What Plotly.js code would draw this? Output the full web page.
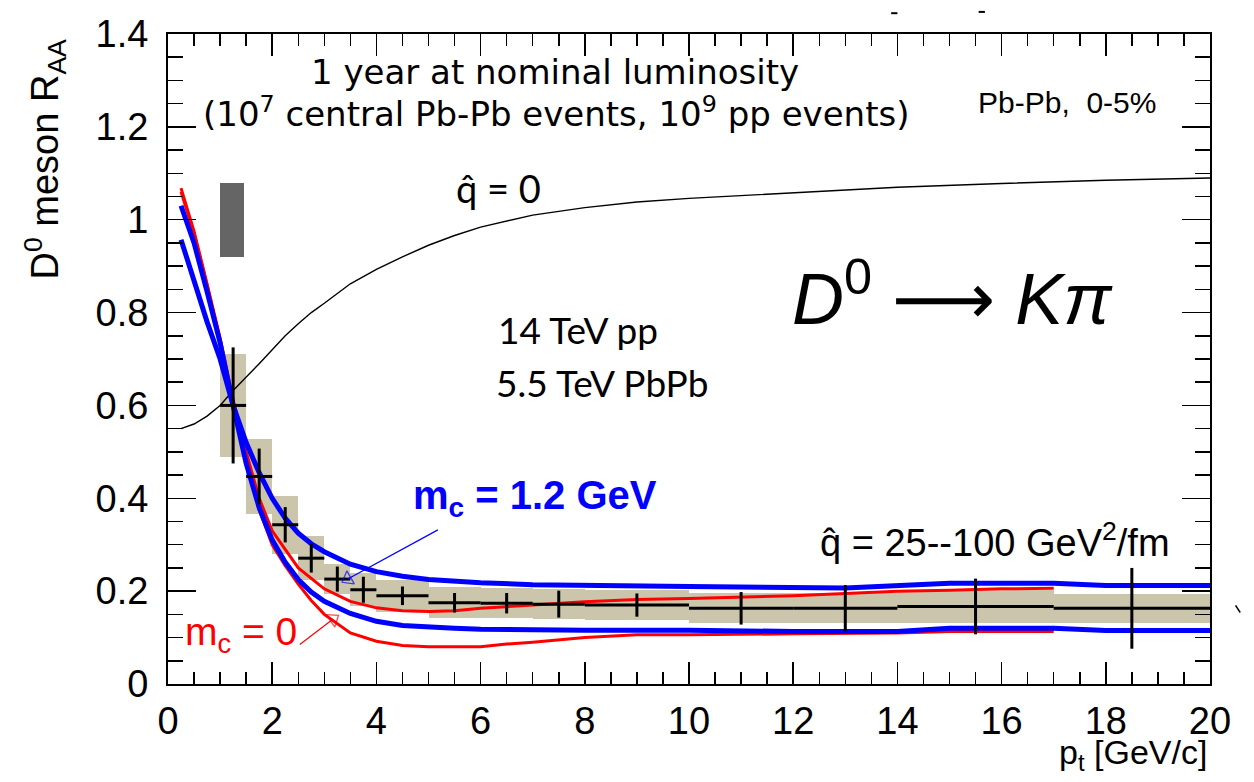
<!DOCTYPE html>
<html>
<head>
<meta charset="utf-8">
<script src="https://cdn.plot.ly/plotly-3.0.1.min.js"></script>
<style>
  html, body { margin: 0; padding: 0; background: #ffffff; }
  #chart { width: 1254px; height: 782px; }
</style>
</head>
<body>
<div id="chart"></div>
<script>
// D0 -> K pi nuclear modification factor, Pb-Pb 0-5%, projected for one year of running

// Measured points: bin centres, half widths, R_AA, statistical and systematic errors
const ptBinCenter    = [1.25, 1.75, 2.25, 2.75, 3.25, 3.75, 4.5, 5.5, 6.5, 7.5, 9, 11, 13, 15.5, 18.5];
const ptBinHalfWidth = [0.25, 0.25, 0.25, 0.25, 0.25, 0.25, 0.5, 0.5, 0.5, 0.5, 1, 1, 1, 1.5, 1.5];
const raaD0          = [0.600, 0.447, 0.343, 0.271, 0.226, 0.203, 0.190, 0.175, 0.174, 0.172, 0.170, 0.163, 0.163, 0.167, 0.163];
const statErr        = [0.125, 0.060, 0.038, 0.031, 0.027, 0.028, 0.020, 0.021, 0.022, 0.029, 0.025, 0.035, 0.050, 0.060, 0.087];
const sysErr         = [0.110, 0.080, 0.063, 0.048, 0.033, 0.036, 0.034, 0.033, 0.032, 0.032, 0.032, 0.032, 0.032, 0.035, 0.031];

// Overall normalisation uncertainty around R_AA = 1
const normPt = [1.22];
const normHalfWidth = [0.23];
const normLow = [0.92];
const normHigh = [1.08];

// Calculation without medium (qhat = 0)
const qhatZeroPt  = [0.25, 0.5, 0.75, 1.0, 1.25, 1.5, 1.75, 2.0, 2.25, 2.5, 2.75, 3.0, 3.5, 4.0, 4.5, 5.0, 5.5, 6.0, 7.0, 8.0, 9.0, 10, 12, 14, 16, 18, 20];
const qhatZeroRaa = [0.550, 0.560, 0.577, 0.600, 0.632, 0.660, 0.690, 0.720, 0.750, 0.776, 0.800, 0.820, 0.862, 0.893, 0.920, 0.945, 0.966, 0.984, 1.010, 1.026, 1.038, 1.046, 1.058, 1.070, 1.078, 1.085, 1.090];

// m_c = 0, qhat = 25 and 100 GeV^2/fm
const massless25Pt  = [0.25, 0.5, 0.75, 1.0, 1.25, 1.5, 1.75, 2.0, 2.5, 3.0, 3.5, 4.0, 4.5, 5.0, 5.5, 6.0, 7.0, 8.0, 9.0, 10, 12, 13, 14, 15, 16, 17];
const massless25Raa = [1.068, 0.975, 0.862, 0.745, 0.612, 0.500, 0.400, 0.330, 0.250, 0.205, 0.178, 0.164, 0.158, 0.156, 0.158, 0.163, 0.170, 0.177, 0.182, 0.184, 0.190, 0.195, 0.200, 0.202, 0.205, 0.206];
const massless100Pt  = [0.25, 0.5, 0.75, 1.0, 1.25, 1.5, 1.75, 2.0, 2.25, 2.5, 2.75, 3.0, 3.5, 4.0, 4.5, 5.0, 6.0, 6.5, 7.0, 8.0, 9.0, 10, 12, 14, 15, 17];
const massless100Raa = [1.060, 0.970, 0.858, 0.740, 0.605, 0.480, 0.375, 0.300, 0.255, 0.215, 0.180, 0.150, 0.110, 0.092, 0.083, 0.080, 0.080, 0.086, 0.090, 0.100, 0.106, 0.106, 0.108, 0.110, 0.113, 0.113];

// m_c = 1.2 GeV, qhat = 25 and 100 GeV^2/fm
const massive25Pt  = [0.25, 0.5, 0.75, 1.0, 1.25, 1.5, 1.75, 2.0, 2.25, 2.5, 2.75, 3.0, 3.5, 4.0, 4.5, 5.0, 6.0, 7.0, 8.0, 10, 13, 14, 15, 17, 18, 20];
const massive25Raa = [0.957, 0.865, 0.780, 0.700, 0.600, 0.520, 0.455, 0.400, 0.357, 0.325, 0.302, 0.285, 0.258, 0.242, 0.232, 0.225, 0.218, 0.214, 0.212, 0.210, 0.207, 0.212, 0.217, 0.217, 0.212, 0.212];
const massive100Pt  = [0.25, 0.5, 0.75, 1.0, 1.25, 1.5, 1.75, 2.0, 2.25, 2.5, 2.75, 3.0, 3.5, 4.0, 4.5, 5.0, 5.5, 6.0, 7.0, 8.0, 10, 12, 14, 15, 17, 18, 20];
const massive100Raa = [1.030, 0.950, 0.845, 0.735, 0.600, 0.475, 0.380, 0.310, 0.262, 0.225, 0.198, 0.178, 0.152, 0.135, 0.126, 0.122, 0.120, 0.118, 0.116, 0.116, 0.116, 0.113, 0.113, 0.120, 0.120, 0.115, 0.115];

// Arrow pointers from the labels to the curves
const blueArrowPt  = [5.18, 3.45];
const blueArrowRaa = [0.332, 0.226];
const redArrowPt   = [2.53, 3.17];
const redArrowRaa  = [0.085, 0.140];

const TAN = '#cbc5ab';
const BLUE = '#0000ff';
const RED = '#ff0000';
const HELV = 'Liberation Sans, Arial, sans-serif';

const sysBoxes = {
  type: 'bar',
  x: ptBinCenter,
  width: ptBinHalfWidth.map(w => 2 * w),
  base: raaD0.map((v, i) => v - sysErr[i]),
  y: sysErr.map(e => 2 * e),
  marker: { color: TAN, line: { width: 0 } },
  hoverinfo: 'skip',
  showlegend: false
};

const normBox = {
  type: 'bar',
  x: normPt,
  width: normHalfWidth.map(w => 2 * w),
  base: normLow,
  y: normHigh.map((h, i) => h - normLow[i]),
  marker: { color: '#656565', line: { width: 0 } },
  hoverinfo: 'skip',
  showlegend: false
};

function curve(x, y, color, width) {
  return {
    type: 'scatter', mode: 'lines', x: x, y: y,
    line: { color: color, width: width, shape: 'linear' },
    hoverinfo: 'skip', showlegend: false
  };
}

const dataPoints = {
  type: 'scatter',
  mode: 'markers',
  x: ptBinCenter,
  y: raaD0,
  marker: { size: 1, color: '#000000' },
  error_y: { type: 'data', array: statErr, visible: true, color: '#000000', thickness: 3, width: 0 },
  error_x: { type: 'data', array: ptBinHalfWidth, visible: true, color: '#000000', thickness: 3, width: 0 },
  hoverinfo: 'skip',
  showlegend: false
};

function arrow(x, y, color, angle) {
  return {
    type: 'scatter', mode: 'lines+markers', x: x, y: y,
    line: { color: color, width: 1.2 },
    marker: { symbol: 'triangle-up-open', size: [0, 13], angle: angle, color: color, line: { width: 1.3, color: color } },
    hoverinfo: 'skip', showlegend: false
  };
}

const traces = [
  sysBoxes,
  normBox,
  curve(qhatZeroPt, qhatZeroRaa, '#000000', 1.4),
  curve(massless25Pt, massless25Raa, RED, 3),
  curve(massless100Pt, massless100Raa, RED, 3),
  curve(massive25Pt, massive25Raa, BLUE, 5),
  curve(massive100Pt, massive100Raa, BLUE, 5),
  dataPoints,
  arrow(blueArrowPt, blueArrowRaa, BLUE, -120),
  arrow(redArrowPt, redArrowRaa, RED, 55)
];

const axisFont = { family: HELV, size: 38, color: '#000000' };
const handFont = 'DejaVu Sans, sans-serif';
const gillFont = 'Lato, Open Sans, sans-serif';

// small stray marks above the frame and at the right edge
const strayMarks = [
  { type: 'line', xref: 'paper', yref: 'paper', x0: 0.694, x1: 0.700, y0: 1.032, y1: 1.032, line: { color: '#000', width: 2 } },
  { type: 'line', xref: 'paper', yref: 'paper', x0: 0.778, x1: 0.784, y0: 1.034, y1: 1.034, line: { color: '#000', width: 2 } },
  { type: 'line', xref: 'paper', yref: 'paper', x0: 1.0245, x1: 1.029, y0: 0.121, y1: 0.110, line: { color: '#000', width: 1.5 } }
];

const layout = {
  width: 1254,
  height: 782,
  margin: { l: 168, r: 44, t: 34, b: 98, pad: 0 },
  paper_bgcolor: '#ffffff',
  plot_bgcolor: '#ffffff',
  barmode: 'overlay',
  bargap: 0,
  showlegend: false,
  shapes: strayMarks,
  xaxis: {
    range: [0, 20],
    dtick: 2,
    tick0: 0,
    ticks: 'inside',
    ticklen: 22,
    tickwidth: 1.5,
    tickcolor: '#000000',
    minor: { dtick: 0.5, ticks: 'inside', ticklen: 12, tickwidth: 1.5, tickcolor: '#000000' },
    showline: true,
    linecolor: '#000000',
    linewidth: 2,
    mirror: 'allticks',
    showgrid: false,
    zeroline: false,
    tickfont: axisFont,
    ticklabelstandoff: 2
  },
  yaxis: {
    range: [0, 1.4],
    dtick: 0.2,
    tick0: 0,
    ticks: 'inside',
    ticklen: 28,
    tickwidth: 1.5,
    tickcolor: '#000000',
    minor: { dtick: 0.05, ticks: 'inside', ticklen: 15, tickwidth: 1.5, tickcolor: '#000000' },
    showline: true,
    linecolor: '#000000',
    linewidth: 2,
    mirror: 'allticks',
    showgrid: false,
    zeroline: false,
    tickfont: axisFont,
    ticklabelstandoff: 10
  },
  annotations: [
    { xref: 'paper', yref: 'paper', x: -0.118, y: 0.807, text: 'D<sup>0</sup> meson R<sub>AA</sub>',
      textangle: -90, showarrow: false, font: { family: HELV, size: 38, color: '#000000' },
      xanchor: 'center', yanchor: 'middle' },
    { xref: 'paper', yref: 'paper', x: 0.999, y: -0.145, text: 'p<sub>t</sub> [GeV/c]',
      showarrow: false, font: { family: HELV, size: 34, color: '#000000' },
      xanchor: 'right', yanchor: 'bottom' },
    { x: 7.43, y: 1.319, text: '1 year at nominal luminosity', showarrow: false,
      font: { family: handFont, size: 34, color: '#000000' }, xanchor: 'center', yanchor: 'middle' },
    { x: 7.45, y: 1.232, text: '(10<sup>7</sup> central Pb-Pb events, 10<sup>9</sup> pp events)', showarrow: false,
      font: { family: handFont, size: 34, color: '#000000' }, xanchor: 'center', yanchor: 'middle' },
    { x: 17.26, y: 1.252, text: 'Pb-Pb,  0-5%', showarrow: false,
      font: { family: HELV, size: 30, color: '#000000' }, xanchor: 'center', yanchor: 'middle' },
    { x: 6.35, y: 1.069, text: 'q\u0302 = 0', showarrow: false,
      font: { family: gillFont, size: 38, color: '#000000' }, xanchor: 'center', yanchor: 'middle' },
    { x: 15.05, y: 0.838, text: '<i>D</i><sup>0</sup> <span style="font-family:DejaVu Sans">\u27F6</span> <i>K\u03C0</i>', showarrow: false,
      font: { family: HELV, size: 72, color: '#000000' }, xanchor: 'center', yanchor: 'middle' },
    { x: 6.3, y: 0.763, text: '14 TeV pp', showarrow: false,
      font: { family: gillFont, size: 37, color: '#000000' }, xanchor: 'left', yanchor: 'middle' },
    { x: 6.25, y: 0.649, text: '5.5 TeV PbPb', showarrow: false,
      font: { family: gillFont, size: 37, color: '#000000' }, xanchor: 'left', yanchor: 'middle' },
    { x: 7.04, y: 0.400, text: '<b>m<sub>c</sub> = 1.2 GeV</b>', showarrow: false,
      font: { family: HELV, size: 40, color: BLUE }, xanchor: 'center', yanchor: 'middle' },
    { x: 15.87, y: 0.310, text: 'q\u0302 = 25--100 GeV<sup>2</sup>/fm', showarrow: false,
      font: { family: HELV, size: 38, color: '#000000' }, xanchor: 'center', yanchor: 'middle' },
    { x: 1.4, y: 0.106, text: 'm<sub>c</sub> = 0', showarrow: false,
      font: { family: HELV, size: 39, color: RED }, xanchor: 'center', yanchor: 'middle' }
  ]
};

Plotly.newPlot('chart', traces, layout, { staticPlot: true, displayModeBar: false });
</script>
</body>
</html>
